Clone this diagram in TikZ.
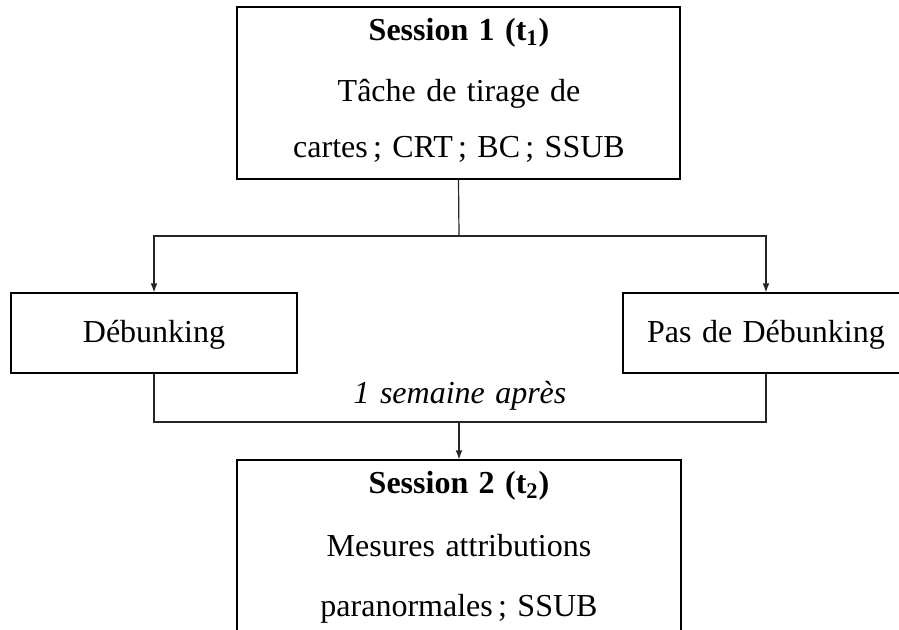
\documentclass[tikz,border=0pt]{standalone}
\usepackage{fontspec}
\setmainfont{Liberation Serif}[WordSpace=1.3]
\usetikzlibrary{arrows.meta}
\tikzset{
  boxnode/.style={draw, rectangle, inner sep=0pt, line width=0.6pt},
  txt/.style={anchor=base, inner sep=0pt, font=\fontsize{16pt}{19pt}\selectfont},
  conn/.style={line width=0.6pt, draw=black!85},
  arr/.style={conn, -{Latex[length=4.5pt,width=3.4pt]}}
}
\begin{document}
\begin{tikzpicture}[x=0.5pt, y=-0.5pt]
\fill[white] (0,0) rectangle (899,629);
\clip (0,0) rectangle (899,629);
% boxes
\node[boxnode, minimum width=221.5pt, minimum height=86pt] (s1) at (458.5,93) {};
\node[boxnode, minimum width=143pt, minimum height=40pt] (deb) at (154,333) {};
\node[boxnode, minimum width=143pt, minimum height=40pt] (pas) at (766,333) {};
\node[boxnode, minimum width=222pt, minimum height=90pt] (s2) at (459,550) {};
% texts
\node[txt] (s1a) at (459,40) {\bfseries Session 1 (t\textsubscript{1})};
\node[txt] (s1b) at (459,101) {Tâche de tirage de};
\node[txt] (s1c) at (459,157) {cartes\,; CRT\,; BC\,; SSUB};
\node[txt] (debt) at (154,342) {Débunking};
\node[txt] (past) at (766,342) {Pas de Débunking};
\node[txt] (sem) at (460,403) {\itshape 1 semaine après};
\node[txt] (s2a) at (459,493) {\bfseries Session 2 (t\textsubscript{2})};
\node[txt] (s2b) at (459,556) {Mesures attributions};
\node[txt] (s2c) at (459,616) {paranormales\,; SSUB};
% connectors
\coordinate (j1) at (459,236);
\coordinate (j2) at (459,422);
\draw[conn] (s1.south) -- (j1);
\draw[arr] (j1) -| (deb.north);
\draw[arr] (j1) -| (pas.north);
\draw[conn] (deb.south) |- (j2);
\draw[conn] (pas.south) |- (j2);
\draw[arr] (j2) -- (s2.north);
\end{tikzpicture}
\end{document}
